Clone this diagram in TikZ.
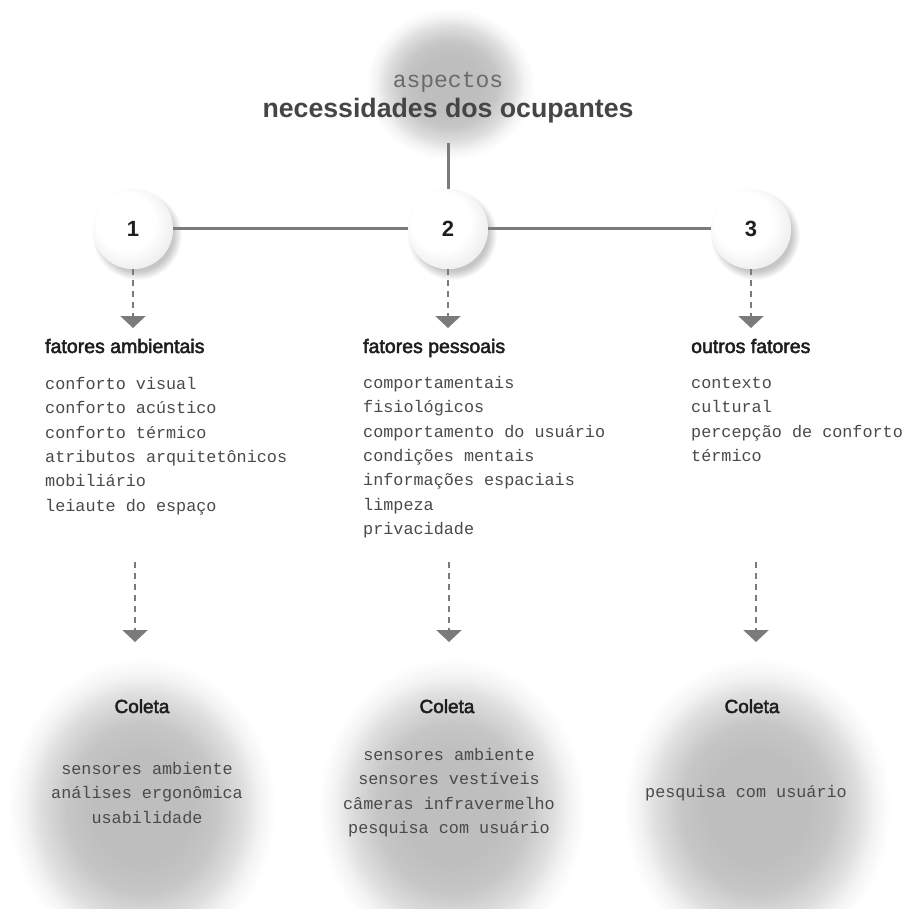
\documentclass[tikz,border=0pt]{standalone}
\usepackage{fontspec}
\setmainfont{Liberation Sans}
\newfontfamily\monof{Liberation Mono}
\newfontfamily\medf{Liberation Sans}[FakeBold=2.5]
\usetikzlibrary{arrows.meta}

\definecolor{linec}{HTML}{7B7B7B}
\definecolor{blobc}{HTML}{BEBEBE}
\definecolor{txtdark}{HTML}{1E1E1E}
\definecolor{txtmono}{HTML}{4A4A4A}
\definecolor{titlec}{HTML}{454545}

% soft grey halo behind the title and the "Coleta" groups
\pgfdeclareradialshading{halo}{\pgfpoint{0bp}{0bp}}{%
  color(0bp)=(blobc); color(9bp)=(blobc); color(14bp)=(blobc!88!white);
  color(19bp)=(blobc!50!white); color(22bp)=(blobc!18!white);
  color(25bp)=(white); color(50bp)=(white)}
% numbered discs: light from the upper left
\pgfdeclareradialshading{disc}{\pgfpoint{-7bp}{7bp}}{%
  color(0bp)=(white); color(18bp)=(white); color(28bp)=(black!6);
  color(34bp)=(black!11); color(50bp)=(black!11)}
% shadow under the discs
\pgfdeclareradialshading{discshadow}{\pgfpoint{0bp}{0bp}}{%
  color(0bp)=(black!28); color(20bp)=(black!22); color(25bp)=(white);
  color(50bp)=(white)}

\tikzset{
  connector/.style={draw=linec, line width=3pt},
  droparrow/.style={draw=linec, line width=2.5pt, dash pattern=on 6pt off 5pt,
    -{Triangle[width=25pt,length=12pt,fill=linec]}},
  numdisc/.style={circle, minimum size=80pt, inner sep=0pt,
    shading=disc, font=\fontsize{22}{24}\selectfont\bfseries, text=txtdark},
  heading/.style={anchor=base west, inner sep=0pt, text=txtdark,
    font=\fontsize{19.5}{22}\medf},
  itemlist/.style={anchor=north west, inner sep=0pt, align=left, text=txtmono,
    font=\fontsize{16.8}{24.4}\monof},
  coleta/.style={anchor=base, inner sep=0pt, text=txtdark,
    font=\fontsize{19}{22}\medf},
  collist/.style={anchor=north, inner sep=0pt, align=center, text=txtmono,
    font=\fontsize{16.8}{24.4}\monof},
}
\newcommand{\firstline}{\rule{0pt}{18pt}}

\begin{document}
\begin{tikzpicture}[x=1pt, y=-1pt]
\useasboundingbox (0,0) rectangle (907,909);
\fill[white] (0,0) rectangle (907,909);
\clip (0,0) rectangle (907,909);

% halos
\shade[shading=halo] (450,84) ellipse [x radius=84, y radius=76];
\shade[shading=halo] (142,808) ellipse [x radius=134, y radius=150];
\shade[shading=halo] (452,808) ellipse [x radius=134, y radius=150];
\shade[shading=halo] (757,808) ellipse [x radius=134, y radius=150];

% title
\node[anchor=base, inner sep=0pt, text=titlec!80!white,
  font=\fontsize{23}{26}\monof] (asp) at (448,88) {aspectos};
\node[anchor=base, inner sep=0pt, text=titlec,
  font=\fontsize{26.7}{30}\bfseries] (title) at (448,118) {necessidades dos ocupantes};
\coordinate (stem) at (448,143);

% disc shadows
\foreach \x in {133,448,751}
  \shade[shading=discshadow] (\x+4,229+6) circle (45);

% connectors between title and discs
\path (133,229) node[numdisc] (c1) {}
      (448,229) node[numdisc] (c2) {}
      (751,229) node[numdisc] (c3) {};
\draw[connector] (stem) -- (c2.north);
\draw[connector] (c1) -- (c2);
\draw[connector] (c2) -- (c3);

% discs with their numbers
\node[numdisc] at (c1) {1};
\node[numdisc] at (c2) {2};
\node[numdisc] at (c3) {3};

% arrows from the discs down to the headings
\coordinate (t1) at (133,328);
\coordinate (t2) at (448,328);
\coordinate (t3) at (751,328);
\draw[droparrow] (c1.south) -- (t1);
\draw[droparrow] (c2.south) -- (t2);
\draw[droparrow] (c3.south) -- (t3);

% headings
\node[heading] (h1) at (45,353) {fatores ambientais};
\node[heading] (h2) at (363,353) {fatores pessoais};
\node[heading] (h3) at (691,353) {outros fatores};

% factor lists
\node[itemlist] (l1) at (45,371) {\firstline conforto visual\\conforto acústico\\conforto térmico\\atributos arquitetônicos\\mobiliário\\leiaute do espaço};
\node[itemlist] (l2) at (363,370) {\firstline comportamentais\\fisiológicos\\comportamento do usuário\\condições mentais\\informações espaciais\\limpeza\\privacidade};
\node[itemlist] (l3) at (691,370) {\firstline contexto\\cultural\\percepção de conforto\\térmico};

% arrows down to the collection groups
\coordinate (s1) at (135,562);
\coordinate (e1) at (135,642);
\coordinate (s2) at (449,562);
\coordinate (e2) at (449,642);
\coordinate (s3) at (756,562);
\coordinate (e3) at (756,642);
\draw[droparrow] (s1) -- (e1);
\draw[droparrow] (s2) -- (e2);
\draw[droparrow] (s3) -- (e3);

% collection groups
\node[coleta] (k1) at (142,713) {Coleta};
\node[coleta] (k2) at (447,713) {Coleta};
\node[coleta] (k3) at (752,713) {Coleta};
\node[collist] (m1) at (147,756) {\firstline sensores ambiente\\análises ergonômica\\usabilidade};
\node[collist] (m2) at (449,742) {\firstline sensores ambiente\\sensores vestíveis\\câmeras infravermelho\\pesquisa com usuário};
\node[collist] (m3) at (746,779) {\firstline pesquisa com usuário};
\end{tikzpicture}
\end{document}
